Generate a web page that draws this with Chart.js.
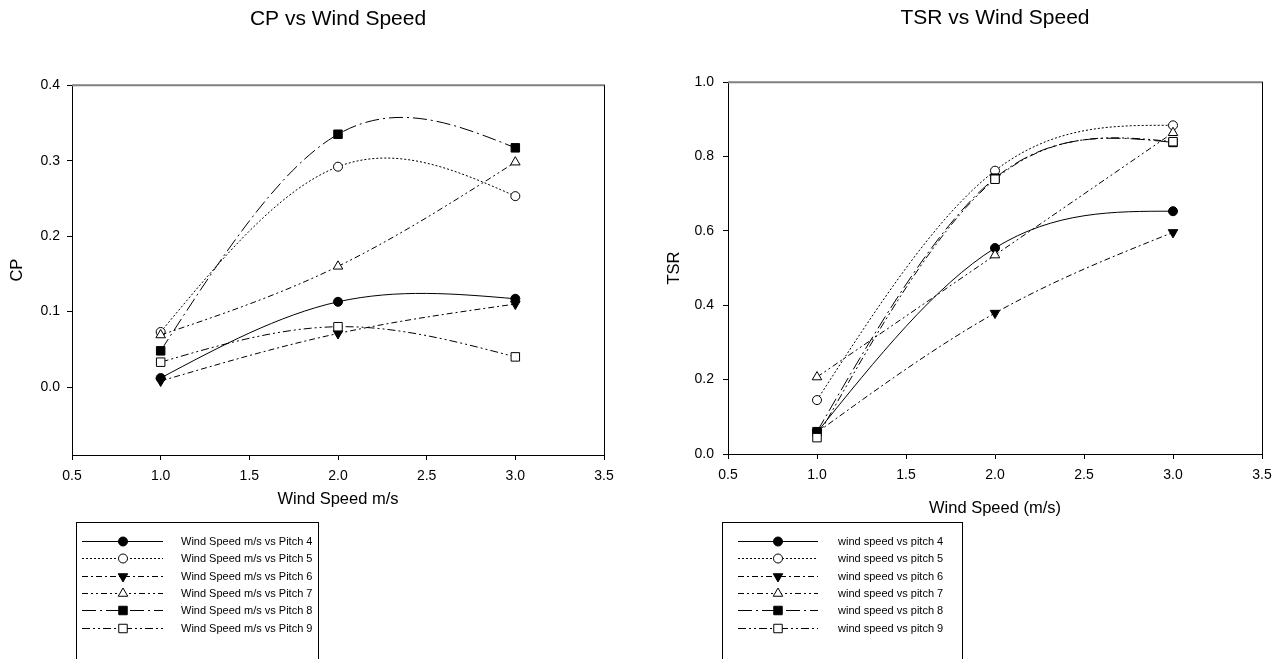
<!DOCTYPE html>
<html>
<head>
<meta charset="utf-8">
<script src="https://cdn.jsdelivr.net/npm/chart.js@4.4.1/dist/chart.umd.min.js"></script>
<style>
  html, body { margin: 0; padding: 0; background: #fff; overflow: hidden; }
  canvas { position: absolute; top: 0; }
  #cpChart { left: 0; }
  #tsrChart { left: 641px; }
</style>
</head>
<body>
<canvas id="cpChart" width="641" height="659"></canvas>
<canvas id="tsrChart" width="641" height="659"></canvas>
<script>
const windSpeed = [1.0, 2.0, 3.0]
const xTicks = [0.5, 1.0, 1.5, 2.0, 2.5, 3.0, 3.5]
const cpTicks = [0.0, 0.1, 0.2, 0.3, 0.4]
const tsrTicks = [0.0, 0.2, 0.4, 0.6, 0.8, 1.0]

// CP per blade pitch
const cpPitch4 = [0.012, 0.113, 0.117]
const cpPitch5 = [0.073, 0.292, 0.253]
const cpPitch6 = [0.008, 0.071, 0.110]
const cpPitch7 = [0.069, 0.160, 0.298]
const cpPitch8 = [0.048, 0.335, 0.317]
const cpPitch9 = [0.033, 0.080, 0.040]

// TSR per blade pitch
const tsrPitch4 = [0.058, 0.554, 0.653]
const tsrPitch5 = [0.145, 0.762, 0.884]
const tsrPitch6 = [0.058, 0.379, 0.596]
const tsrPitch7 = [0.207, 0.535, 0.864]
const tsrPitch8 = [0.060, 0.742, 0.838]
const tsrPitch9 = [0.044, 0.739, 0.840]

const cpLabels = ['Wind Speed m/s vs Pitch 4', 'Wind Speed m/s vs Pitch 5', 'Wind Speed m/s vs Pitch 6',
  'Wind Speed m/s vs Pitch 7', 'Wind Speed m/s vs Pitch 8', 'Wind Speed m/s vs Pitch 9']
const tsrLabels = ['wind speed vs pitch 4', 'wind speed vs pitch 5', 'wind speed vs pitch 6',
  'wind speed vs pitch 7', 'wind speed vs pitch 8', 'wind speed vs pitch 9']

// marker + line look for each pitch (same in both charts)
const looks = [
  { shape: 'circle', rot: 0, fill: '#000', dash: [], r: 4.5 },
  { shape: 'circle', rot: 0, fill: '#fff', dash: [2, 2], r: 4.5 },
  { shape: 'triangle', rot: 180, fill: '#000', dash: [6, 3, 2, 3], r: 5.5 },
  { shape: 'triangle', rot: 0, fill: '#fff', dash: [6, 3, 2, 3, 2, 3], r: 5.5 },
  { shape: 'rect', rot: 0, fill: '#000', dash: [14, 4, 2, 4], r: 6 },
  { shape: 'rect', rot: 0, fill: '#fff', dash: [8, 3, 2, 3, 2, 3], r: 6 }
]

Chart.defaults.font.family = 'Arial, "Liberation Sans", sans-serif'
Chart.defaults.color = '#000'

// swap chart.js bezier handles for a natural cubic spline through the points
const naturalSpline = {
  id: 'naturalSpline',
  beforeDatasetsDraw(chart) {
    chart.getSortedVisibleDatasetMetas().forEach(meta => {
      const line = meta.dataset
      if (!line || !line.updateControlPoints) return
      line.updateControlPoints(chart.chartArea, 'x')
      const pts = meta.data
      const n = pts.length
      if (n < 3) return
      const h = [], d = []
      for (let i = 0; i < n - 1; i++) {
        h.push(pts[i + 1].x - pts[i].x)
        d.push((pts[i + 1].y - pts[i].y) / h[i])
      }
      const M = new Array(n).fill(0)
      const a = [], b = [], c = [], r = []
      for (let i = 1; i < n - 1; i++) {
        a.push(h[i - 1]); b.push(2 * (h[i - 1] + h[i])); c.push(h[i]); r.push(6 * (d[i] - d[i - 1]))
      }
      const m = b.length
      for (let i = 1; i < m; i++) {
        const w = a[i] / b[i - 1]
        b[i] -= w * c[i - 1]
        r[i] -= w * r[i - 1]
      }
      for (let i = m - 1; i >= 0; i--) {
        M[i + 1] = (r[i] - (i < m - 1 ? c[i] * M[i + 2] : 0)) / b[i]
      }
      const s = []
      for (let i = 0; i < n - 1; i++) s.push(d[i] - h[i] * (2 * M[i] + M[i + 1]) / 6)
      s.push(d[n - 2] + h[n - 2] * (M[n - 2] + 2 * M[n - 1]) / 6)
      for (let i = 0; i < n; i++) {
        if (i < n - 1) { pts[i].cp2x = pts[i].x + h[i] / 3; pts[i].cp2y = pts[i].y + s[i] * h[i] / 3 }
        if (i > 0) { pts[i].cp1x = pts[i].x - h[i - 1] / 3; pts[i].cp1y = pts[i].y - s[i] * h[i - 1] / 3 }
      }
    })
  }
}

const frame = {
  id: 'frame',
  beforeDatasetsDraw(chart) {
    const { ctx, chartArea: a } = chart
    ctx.save()
    ctx.strokeStyle = '#808080'
    ctx.lineWidth = 2
    ctx.beginPath()
    ctx.moveTo(a.left, a.top)
    ctx.lineTo(a.right + 1, a.top)
    ctx.stroke()
    ctx.strokeStyle = '#000'
    ctx.lineWidth = 1
    ctx.beginPath()
    ctx.moveTo(a.right + 0.5, a.top)
    ctx.lineTo(a.right + 0.5, a.bottom)
    ctx.stroke()
    ctx.restore()
  }
}

const boxLegend = {
  id: 'boxLegend',
  afterDraw(chart, args, o) {
    const ctx = chart.ctx
    ctx.save()
    ctx.strokeStyle = '#000'
    ctx.lineWidth = 1
    ctx.strokeRect(o.x + 0.5, o.y + 0.5, o.w, 200)
    ctx.font = '11px Arial, "Liberation Sans", sans-serif'
    ctx.textBaseline = 'middle'
    ctx.textAlign = 'left'
    chart.data.datasets.forEach((ds, i) => {
      const y = Math.round(o.y + o.first + i * o.step) + 0.5
      ctx.setLineDash(ds.borderDash)
      ctx.beginPath()
      ctx.moveTo(o.x0, y)
      ctx.lineTo(o.x1, y)
      ctx.stroke()
      ctx.setLineDash([])
      ctx.fillStyle = ds.pointBackgroundColor
      Chart.helpers.drawPoint(ctx, {
        pointStyle: ds.pointStyle, rotation: ds.pointRotation,
        radius: ds.pointRadius, borderWidth: 1
      }, o.mark, y)
      ctx.fillStyle = '#000'
      ctx.fillText(ds.label, o.text, y)
    })
    ctx.restore()
  }
}

function makeChart(id, series, labels, yTicks, yMin, yMax, yTitle, c) {
  const datasets = series.map((vals, i) => ({
    label: labels[i],
    data: windSpeed.map((x, j) => ({ x: x, y: vals[j] })),
    borderColor: '#000',
    borderWidth: 1,
    borderDash: looks[i].dash,
    tension: 0.5,
    pointStyle: looks[i].shape,
    pointRotation: looks[i].rot,
    pointRadius: looks[i].r,
    pointBackgroundColor: looks[i].fill,
    pointBorderColor: '#000',
    pointBorderWidth: 1,
    order: series.length - i
  }))

  return new Chart(document.getElementById(id), {
    type: 'line',
    data: { datasets: datasets },
    plugins: [naturalSpline, frame, boxLegend],
    options: {
      responsive: false,
      animation: false,
      events: [],
      layout: { padding: { left: 0, right: c.padRight, top: 0, bottom: c.padBottom } },
      plugins: {
        legend: { display: false },
        tooltip: { enabled: false },
        title: {
          display: true,
          fullSize: false,
          text: c.title,
          font: { size: 21, weight: 'normal' },
          padding: { top: c.titleTop, bottom: c.titleBottom }
        },
        boxLegend: c.legend
      },
      scales: {
        x: {
          type: 'linear',
          min: 0.5,
          max: 3.5,
          afterBuildTicks: s => { s.ticks = xTicks.map(v => ({ value: v })) },
          afterFit: s => { s.height = c.xHeight },
          ticks: { font: { size: 14 }, padding: 8, maxRotation: 0, callback: v => v.toFixed(1) },
          grid: { drawOnChartArea: false, color: '#000', tickLength: 5 },
          border: { display: true, color: '#000', width: 1 },
          title: { display: true, text: c.xTitle, font: { size: 16.5 }, padding: { top: 0, bottom: 5.4 } }
        },
        y: {
          min: yMin,
          max: yMax,
          afterBuildTicks: s => { s.ticks = yTicks.map(v => ({ value: v })) },
          afterFit: s => { s.width = c.yWidth },
          ticks: { font: { size: 14 }, padding: c.yTickPad, callback: v => v.toFixed(1) },
          grid: { drawOnChartArea: false, color: '#000', tickLength: 5 },
          border: { display: true, color: '#000', width: 1 },
          title: { display: true, text: yTitle, font: { size: 16.5 }, padding: { top: c.yTitlePad, bottom: 0 } }
        }
      }
    }
  })
}

makeChart('cpChart',
  [cpPitch4, cpPitch5, cpPitch6, cpPitch7, cpPitch8, cpPitch9],
  cpLabels, cpTicks, -0.09, 0.4, 'CP',
  {
    title: 'CP vs Wind Speed', titleTop: 7, titleBottom: 53,
    xTitle: 'Wind Speed m/s', xHeight: 60, padBottom: 144, padRight: 37,
    yWidth: 72, yTickPad: 7, yTitlePad: 8,
    legend: { x: 76, y: 522, w: 242, first: 19, step: 17.3, x0: 82, x1: 163, mark: 123, text: 181 }
  })

makeChart('tsrChart',
  [tsrPitch4, tsrPitch5, tsrPitch6, tsrPitch7, tsrPitch8, tsrPitch9],
  tsrLabels, tsrTicks, 0, 1, 'TSR',
  {
    title: 'TSR vs Wind Speed', titleTop: 6, titleBottom: 51,
    xTitle: 'Wind Speed (m/s)', xHeight: 70, padBottom: 135, padRight: 20,
    yWidth: 87, yTickPad: 9, yTitlePad: 24,
    legend: { x: 81, y: 522, w: 240, first: 19, step: 17.3, x0: 97, x1: 177, mark: 137, text: 197 }
  })
</script>
</body>
</html>
